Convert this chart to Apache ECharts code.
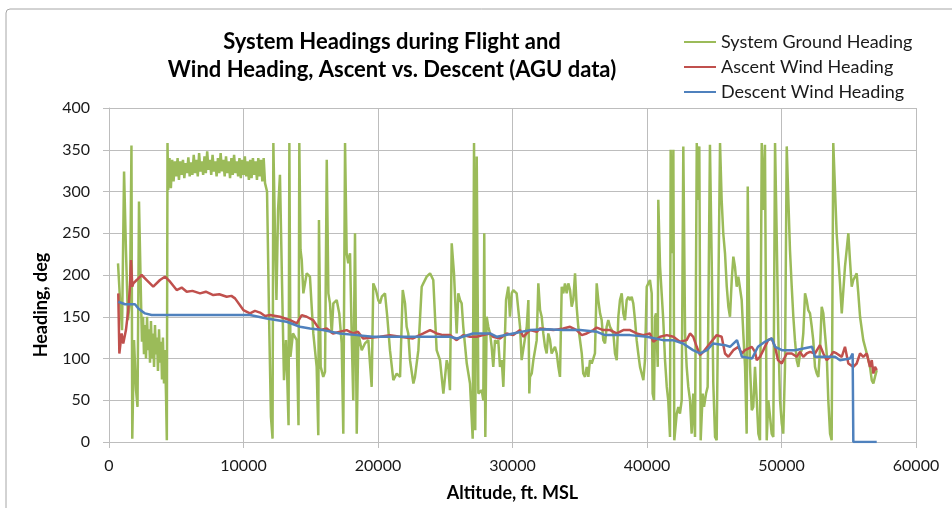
<!DOCTYPE html>
<html>
<head>
<meta charset="utf-8">
<script src="https://cdn.jsdelivr.net/npm/echarts@6/dist/echarts.min.js"></script>
<style>
  html, body { margin: 0; padding: 0; background: #ffffff; }
  #chart { width: 952px; height: 508px; }
</style>
</head>
<body>
<div id="chart"></div>
<script>
// Series names
const seriesNames = ['System Ground Heading', 'Ascent Wind Heading', 'Descent Wind Heading'];

// System ground heading (altitude ft MSL, heading deg)
const groundAlt = [
  670, 820, 970, 1120, 1260, 1410, 1560, 1670, 1730, 1860, 2010, 2120, 2230,
  2380, 2450, 2530, 2600, 2680, 2750, 2830, 2900, 2970, 3050, 3120, 3200, 3270, 3350,
  3420, 3490, 3570, 3640, 3720, 3790, 3870, 3940, 4010, 4090, 4160, 4240, 4300, 4350, 4400,
  4500, 4600, 4700, 4800, 4900, 5000, 5100, 5200, 5300, 5400,
  5500, 5600, 5700, 5800, 5900, 6000, 6100, 6200, 6300, 6400,
  6500, 6600, 6700, 6800, 6900, 7000, 7100, 7200, 7300, 7400,
  7500, 7600, 7700, 7800, 7900, 8000, 8100, 8200, 8300, 8400,
  8500, 8600, 8700, 8800, 8900, 9000, 9100, 9200, 9300, 9400,
  9500, 9600, 9700, 9800, 9900, 10000, 10100, 10200, 10300, 10400,
  10500, 10600, 10700, 10800, 10900, 11000, 11100, 11200, 11300, 11400,
  11500, 11600,
  11750, 11900, 12040, 12160, 12220, 12340, 12450, 12570, 12710, 12860, 13010, 13160,
  13230, 13350, 13410, 13490, 13680, 13960, 14090, 14150, 14240, 14330, 14450, 14700,
  14940, 15070, 15190, 15440, 15560, 15610, 15740, 15930, 16060, 16190, 16310, 16430,
  16560, 16680, 16930, 17120, 17300, 17420, 17550, 17670, 17790, 17920, 18040, 18160,
  18290, 18420, 18540, 18790, 19030, 19280, 19530, 19650, 19850, 20020, 20150, 20280,
  20520, 20690, 20890, 21140, 21390, 21640, 21840, 22010, 22130, 22250, 22380, 22630,
  22750, 23000, 23250, 23370, 23620, 23870, 24110, 24240, 24360, 24610, 24860, 25110,
  25230, 25350, 25480, 25650, 25850, 25970, 26100, 26220, 26340, 26600, 26840, 27040,
  27140, 27230, 27340, 27460, 27710, 27830, 27900, 27980, 28080, 28200, 28330, 28450,
  28570, 28700, 28830, 28940, 29070, 29200, 29320, 29520, 29690, 29810, 29940, 30060,
  30310, 30430, 30560, 30680, 30800, 31060, 31180, 31250, 31300, 31430, 31550, 31800,
  31920, 32050, 32170, 32290, 32420, 32540, 32660, 32790, 32910, 33030, 33160, 33290,
  33410, 33530, 33660, 33780, 33900, 34030, 34150, 34280, 34400, 34520, 34650, 34770,
  34890, 35020, 35150, 35260, 35390, 35520, 35640, 35760, 35890, 36130, 36260, 36380,
  36510, 36630, 36750, 36880, 37000, 37120, 37250, 37380, 37500, 37620, 37750, 37870,
  37990, 38120, 38240, 38360, 38490, 38610, 38740, 38860, 38980, 39110, 39230, 39350,
  39480, 39730, 39850, 39980, 40100, 40220, 40350, 40420, 40520, 40600, 40670, 40720,
  40800, 40840, 40970, 41090, 41210, 41340, 41470, 41580, 41710, 41760, 41860, 41960,
  42030, 42210, 42330, 42450, 42580, 42700, 42830, 42950, 43070, 43200, 43320, 43440,
  43570, 43700, 43770, 43890, 43990, 44140, 44240, 44390, 44510, 44680, 44810, 44930,
  45060, 45180, 45430, 45550, 45670, 45800, 45930, 46050, 46170, 46300, 46420, 46540,
  46670, 46790, 46910, 47040, 47160, 47290, 47410, 47490, 47580, 47660, 47790, 47900,
  48030, 48160, 48280, 48400, 48530, 48650, 48770, 48900, 49020, 49150, 49270, 49390,
  49520, 49640, 49760, 49890, 50020, 50130, 50260, 50390, 50510, 50630, 50760, 50880,
  51000, 51130, 51250, 51380, 51500, 51620, 51750, 51870, 51990, 52120, 52250, 52360,
  52490, 52620, 52740, 52860, 52990, 53110, 53230, 53360, 53480, 53610, 53730, 53850,
  54100, 54350, 54480, 54720, 54970, 55090, 55220, 55340, 55470, 55590, 55710, 55840,
  56080, 56340, 56580, 56710, 56830, 56950, 57080
];
const groundHdg = [
  214, 170, 134, 324, 230, 146, 170, 355, 4, 122, 62, 42, 288,
  170, 120, 150, 105, 140, 100, 150, 110, 135, 95, 145, 100, 130, 90,
  140, 105, 125, 85, 135, 95, 120, 75, 125, 70, 110, 55, 2, 358, 302,
  340, 304, 338, 312, 336, 318, 340, 314, 336, 320,
  338, 316, 334, 322, 341, 318, 335, 320, 344, 322,
  338, 318, 346, 324, 336, 320, 342, 322, 348, 326,
  338, 320, 344, 324, 336, 318, 340, 322, 346, 324,
  338, 318, 342, 322, 336, 316, 340, 320, 344, 322,
  336, 318, 340, 316, 338, 320, 342, 318, 336, 314,
  338, 316, 340, 320, 336, 314, 340, 318, 338, 312,
  340, 310,
  300, 150, 30, 4, 358, 250, 170, 278, 320, 194, 74, 122,
  90, 20, 358, 102, 130, 122, 20, 358, 230, 218, 178, 202,
  198, 162, 130, 90, 8, 266, 90, 78, 84, 338, 178, 166,
  130, 166, 170, 154, 118, 10, 358, 226, 214, 226, 130, 50,
  250, 10, 130, 110, 118, 122, 66, 190, 182, 170, 166, 174,
  178, 150, 110, 74, 82, 78, 182, 166, 138, 130, 98, 70,
  78, 110, 186, 190, 198, 202, 194, 150, 110, 98, 58, 98,
  90, 62, 238, 202, 130, 178, 170, 166, 138, 94, 70, 4,
  358, 14, 342, 58, 62, 50, 250, 6, 150, 138, 130, 114,
  90, 122, 118, 122, 90, 98, 66, 170, 186, 150, 178, 182,
  178, 178, 138, 98, 98, 138, 170, 58, 78, 82, 98, 122,
  190, 158, 150, 130, 114, 106, 130, 122, 106, 110, 114, 106,
  90, 78, 186, 178, 190, 178, 190, 182, 162, 170, 202, 162,
  138, 122, 106, 82, 78, 90, 78, 98, 94, 106, 190, 170,
  154, 146, 122, 118, 138, 146, 138, 134, 130, 106, 98, 150,
  170, 178, 154, 146, 170, 174, 170, 174, 166, 146, 122, 106,
  90, 74, 98, 186, 190, 194, 178, 58, 50, 150, 154, 130,
  90, 290, 210, 178, 146, 98, 66, 50, 6, 350, 226, 350,
  2, 34, 42, 34, 50, 354, 130, 90, 66, 50, 10, 58,
  6, 358, 290, 354, 2, 58, 42, 58, 66, 356, 218, 70,
  6, 2, 358, 290, 250, 226, 186, 162, 150, 194, 222, 210,
  186, 198, 198, 170, 130, 90, 10, 306, 170, 90, 38, 42,
  90, 50, 10, 2, 358, 278, 356, 2, 50, 30, 10, 6,
  358, 250, 130, 50, 22, 10, 90, 354, 290, 230, 186, 150,
  122, 98, 90, 106, 110, 130, 178, 170, 158, 154, 138, 122,
  90, 82, 78, 110, 162, 154, 130, 106, 50, 10, 2, 358,
  250, 190, 154, 210, 250, 218, 186, 194, 198, 202, 178, 150,
  122, 106, 90, 74, 70, 78, 86
];

// Ascent wind heading
const ascentAlt = [
  690, 770, 940, 1060, 1260, 1430, 1560, 1640, 1730, 1810, 2060, 2430, 2800, 3290,
  3790, 4160, 4540, 5030, 5400, 5780, 6200, 6770, 7200, 7750, 8200, 8750, 9100, 9370,
  9990, 10480, 10850, 11230, 11600, 11970,
  12710, 13460, 13960, 14330, 14700, 15170, 15690, 16190, 16650, 17180, 17670, 18140,
  18510, 18890, 19630, 20150, 20890, 21640, 22600, 23370, 23870, 24360, 24830, 25350,
  25850, 26320, 26840, 27340, 27810, 28330, 28550, 29070, 29570, 30060, 30560, 30800,
  31300, 31800, 32050, 33030, 33780, 34280, 34770, 35150, 35520, 36010, 36260, 36750,
  37250, 37750, 38240, 38740, 39230, 39730, 40220, 40470, 40970, 41470, 41960, 42450,
  42950, 43200, 43440, 43700, 43940, 44190, 44680, 45180, 45550, 45800, 46050, 46420,
  46790, 47040, 47290, 47790, 48030, 48160, 48400, 48650, 49000, 49270, 49520, 49740,
  50020, 50390, 50760, 51130, 51380, 51620, 51870, 52120, 52490, 52860, 53110, 53360,
  53610, 53850, 54100, 54480, 54720, 54970, 55340, 55590, 55840, 56080, 56340, 56580,
  56710, 56830, 56950, 57080
];
const ascentHdg = [
  178, 106, 130, 118, 134, 158, 186, 218, 186, 190, 194, 200, 194, 186,
  194, 198, 192, 182, 185, 180, 181, 178, 180, 176, 177, 174, 175, 172,
  158, 154, 157, 155, 151, 152,
  150, 146, 142, 152, 150, 146, 134, 136, 130, 132, 134, 130,
  132, 124, 125, 126, 128, 126, 124, 130, 134, 130, 128, 128,
  122, 128, 126, 126, 128, 130, 126, 124, 130, 128, 134, 126,
  134, 132, 136, 134, 136, 138, 134, 128, 130, 134, 137, 134,
  134, 130, 134, 134, 130, 128, 130, 120, 126, 128, 126, 120,
  122, 130, 126, 114, 104, 108, 118, 128, 126, 106, 102, 110,
  114, 106, 110, 114, 108, 98, 102, 110, 122, 124, 114, 98,
  94, 106, 106, 102, 108, 102, 106, 108, 106, 116, 106, 98,
  102, 108, 106, 102, 114, 94, 90, 94, 106, 102, 106, 90,
  98, 82, 90, 86
];

// Descent wind heading
const descentAlt = [
  690, 1190, 1930, 2180, 2680, 3170, 10480, 11730, 13210, 14200, 14940, 15910,
  17170, 18440, 19630, 23350, 25350, 25870, 27060, 28330, 28850, 30040, 31300,
  32570, 33760, 35020, 36280, 36880, 38740, 40000, 41190, 41930, 42680, 43420,
  43940, 44460, 44910, 45800, 46170, 46690, 47060, 47810, 48250, 48770, 49000,
  49290, 49520, 50040, 51000, 52270, 52490, 53460, 53980, 54350, 55090, 55290,
  55340, 57080
];
const descentHdg = [
  168, 165, 165, 160, 154, 152, 152, 148, 144, 138, 136, 134,
  130, 128, 126, 126, 126, 124, 130, 130, 126, 130, 134,
  135, 134, 134, 132, 128, 128, 126, 122, 122, 118, 110,
  106, 110, 118, 116, 114, 122, 102, 100, 114, 120, 122,
  124, 114, 110, 110, 114, 102, 102, 102, 98, 100, 106,
  0, 0
];

// Axis settings
const xMin = 0, xMax = 60000, xStep = 10000;
const yMin = 0, yMax = 400, yStep = 50;

const pair = (xs, ys) => xs.map((x, i) => [x, ys[i]]);

const FONT = 'Lato';
const GRID = '#bdbdbd';
const chart = echarts.init(document.getElementById('chart'), null, { renderer: 'canvas' });

chart.setOption({
  animation: false,
  backgroundColor: '#ffffff',
  textStyle: { fontFamily: FONT },
  graphic: [{
    type: 'rect',
    shape: { x: 6, y: 9, width: 1000, height: 1000, r: 4 },
    style: { fill: 'none', stroke: '#a6a6a6', lineWidth: 1 },
    silent: true,
    z: -10
  }],
  title: {
    text: 'System Headings during Flight and\nWind Heading, Ascent vs. Descent (AGU data)',
    left: 387,
    top: 23,
    textAlign: 'center',
    textStyle: {
      fontFamily: FONT,
      fontSize: 22,
      fontWeight: 'bold',
      color: '#000000',
      lineHeight: 28
    }
  },
  legend: {
    orient: 'vertical',
    left: 678,
    top: 28,
    itemWidth: 32,
    itemHeight: 14,
    itemGap: 7,
    // legend keys show only the line stroke, no point marker
    itemStyle: { opacity: 0 },
    lineStyle: { width: 2 },
    textStyle: { fontFamily: FONT, fontSize: 18, color: '#1a1a1a' },
    data: seriesNames
  },
  grid: { left: 109, right: 36, top: 108, bottom: 66, containLabel: false },
  xAxis: {
    type: 'value',
    min: xMin, max: xMax, interval: xStep,
    name: 'Altitude, ft. MSL',
    nameLocation: 'middle',
    nameGap: 42,
    nameTextStyle: { fontFamily: FONT, fontSize: 18, fontWeight: 'bold', color: '#000000' },
    axisLine: { show: true, lineStyle: { color: GRID, width: 1 } },
    axisTick: { show: true, length: 6, lineStyle: { color: GRID } },
    axisLabel: {
      fontFamily: FONT, fontSize: 16, color: '#1a1a1a', margin: 16,
      formatter: (v) => String(v)
    },
    splitLine: { show: true, lineStyle: { color: GRID, width: 1 } }
  },
  yAxis: {
    type: 'value',
    min: yMin, max: yMax, interval: yStep,
    name: 'Heading, deg',
    nameLocation: 'middle',
    nameGap: 59,
    nameTextStyle: {
      fontFamily: FONT, fontSize: 18, fontWeight: 'bold', color: '#000000',
      padding: [0, 60, 0, 0]
    },
    axisLine: { show: true, lineStyle: { color: GRID, width: 1 } },
    axisTick: { show: true, length: 6, lineStyle: { color: GRID } },
    axisLabel: { fontFamily: FONT, fontSize: 16, color: '#1a1a1a', margin: 19 },
    splitLine: { show: true, lineStyle: { color: GRID, width: 1 } }
  },
  series: [
    {
      name: seriesNames[0],
      type: 'line',
      data: pair(groundAlt, groundHdg),
      symbol: 'none',
      color: '#9bbb59',
      lineStyle: { color: '#9bbb59', width: 2.5 },
      z: 2
    },
    {
      name: seriesNames[1],
      type: 'line',
      data: pair(ascentAlt, ascentHdg),
      symbol: 'none',
      color: '#c0504d',
      lineStyle: { color: '#c0504d', width: 2.5 },
      z: 3
    },
    {
      name: seriesNames[2],
      type: 'line',
      data: pair(descentAlt, descentHdg),
      symbol: 'none',
      color: '#4f81bd',
      lineStyle: { color: '#4f81bd', width: 2.5 },
      z: 4
    }
  ]
});
</script>
</body>
</html>
